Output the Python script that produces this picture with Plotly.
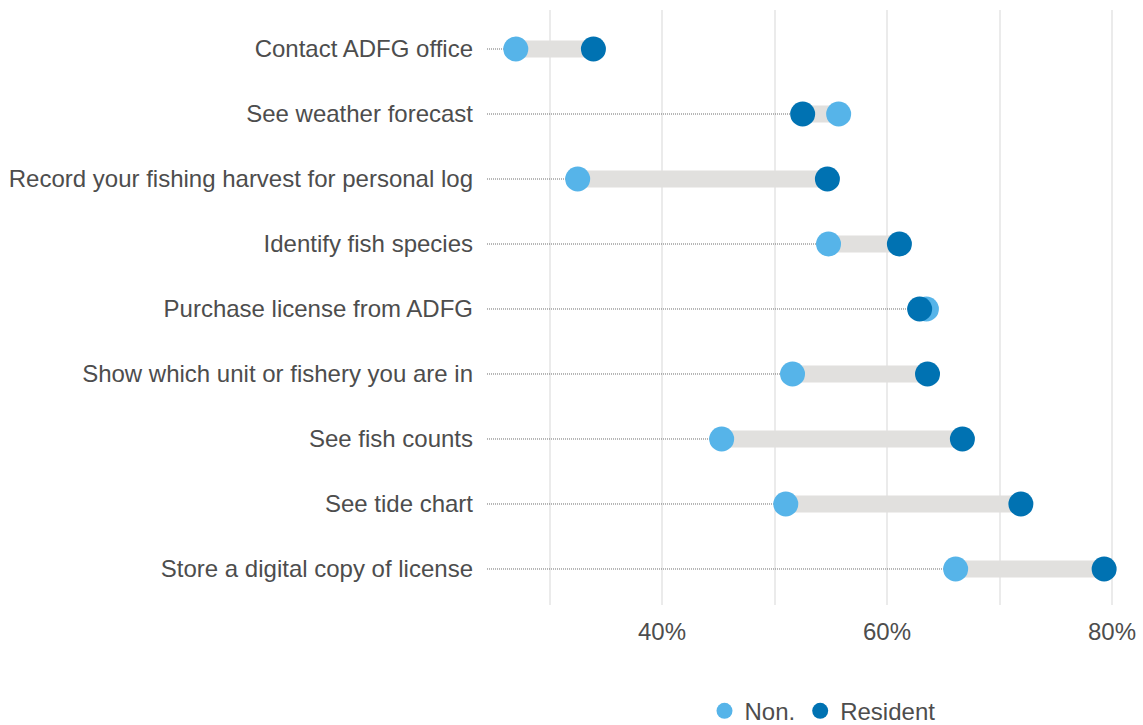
import plotly.graph_objects as go

# Survey items, listed bottom to top
tasks = [
    "Store a digital copy of license",
    "See tide chart",
    "See fish counts",
    "Show which unit or fishery you are in",
    "Purchase license from ADFG",
    "Identify fish species",
    "Record your fishing harvest for personal log",
    "See weather forecast",
    "Contact ADFG office",
]
# Share of respondents (%) by residency
non_resident = [66.1, 51.0, 45.3, 51.6, 63.5, 54.8, 32.5, 55.7, 27.0]
resident = [79.3, 71.9, 66.7, 63.6, 62.9, 61.1, 54.7, 52.5, 33.9]
x_ticks = [40, 60, 80]

X_MIN, X_MAX = 24.44, 80.71
rows = list(range(len(tasks)))

TEXT = "#4d4d4d"
FONT = "Liberation Sans, Arial, sans-serif"
NON_COL = "#56B4E9"
RES_COL = "#0072B2"

fig = go.Figure()

# dotted leader from the axis edge to the lower of the two values
lx, ly = [], []
for r, a, b in zip(rows, non_resident, resident):
    lx += [X_MIN, min(a, b), None]
    ly += [r, r, None]
fig.add_trace(go.Scatter(
    x=lx, y=ly, mode="lines", hoverinfo="skip", showlegend=False,
    line=dict(color="#6e6e6e", width=1, dash="1px,1px"),
))

# grey connector between the two groups
bx, by = [], []
for r, a, b in zip(rows, non_resident, resident):
    bx += [a, b, None]
    by += [r, r, None]
fig.add_trace(go.Scatter(
    x=bx, y=by, mode="lines", hoverinfo="skip", showlegend=False,
    line=dict(color="#e1e0de", width=17),
))

fig.add_trace(go.Scatter(
    x=non_resident, y=rows, mode="markers", name="Non.",
    marker=dict(color=NON_COL, size=25),
))
fig.add_trace(go.Scatter(
    x=resident, y=rows, mode="markers", name="Resident",
    marker=dict(color=RES_COL, size=25),
))

fig.update_layout(
    width=1143, height=725,
    margin=dict(l=487, r=23, t=10, b=120, autoexpand=False),
    paper_bgcolor="white", plot_bgcolor="white",
    font=dict(family=FONT, size=24, color=TEXT),
    showlegend=True,
    legend=dict(
        orientation="h", x=0.53, xanchor="center",
        yref="container", y=0.019, yanchor="middle",
        font=dict(size=24, color=TEXT), itemsizing="trace",
    ),
    xaxis=dict(
        range=[X_MIN, X_MAX], tickvals=x_ticks,
        ticktext=[f"{v}%" for v in x_ticks],
        showgrid=True, gridcolor="#ebebeb", gridwidth=1.8,
        minor=dict(dtick=10, tick0=0, showgrid=True, gridcolor="#ebebeb", gridwidth=1.8),
        zeroline=False, showline=False, ticks="", ticklabelstandoff=10,
        tickfont=dict(size=24, color=TEXT), automargin=False,
    ),
    yaxis=dict(
        range=[-0.554, 8.6], tickvals=rows, ticktext=tasks,
        showgrid=False, zeroline=False, showline=False, ticks="",
        ticklabelstandoff=13, tickfont=dict(size=24, color=TEXT),
        automargin=False,
    ),
)

fig.write_html("out.html")
